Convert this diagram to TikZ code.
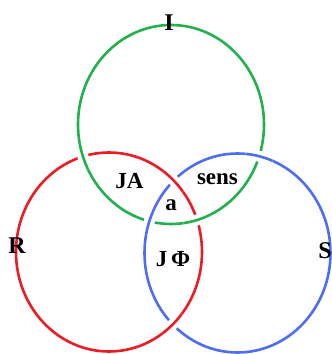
\documentclass[tikz,border=0pt]{standalone}
\usepackage{fontspec}
\setmainfont{Liberation Serif}
\usetikzlibrary{intersections}
\definecolor{ringgreen}{HTML}{22B14C}
\definecolor{ringred}{HTML}{ED1C24}
\definecolor{ringblue}{HTML}{4D6DF3}
\tikzset{
  ring/.style={line width=2.6pt},
  lab/.style={font=\fontsize{23}{23}\selectfont\bfseries, inner sep=0pt},
  biglab/.style={font=\fontsize{24}{24}\selectfont\bfseries, inner sep=0pt}
}
\begin{document}
\begin{tikzpicture}[x=1pt,y=1pt]
  \useasboundingbox (0,0) rectangle (332,354);
  \coordinate (cI) at (171,229.5);
  \coordinate (cR) at (109,102);
  \coordinate (cS) at (237.5,101);

  \draw[ring,ringgreen,name path=I-ring] (cI) ellipse [x radius=93pt, y radius=99.5pt];
  \draw[ring,ringred,name path=R-ring] (cR) ellipse [x radius=93pt, y radius=99.5pt];
  \draw[ring,ringblue,name path=S-ring] (cS) ellipse [x radius=93pt, y radius=99.5pt];

  % crossings: green over red, blue over green, red over blue
  \foreach \ra/\rb/\col in {I/R/ringgreen, S/I/ringblue, R/S/ringred} {
    \path[name intersections={of=\ra-ring and \rb-ring, name=x}];
    \foreach \k in {1,2} {
      \begin{scope}
        \clip (x-\k) circle (14pt);
        \draw[white, line width=11pt] (c\ra) ellipse [x radius=93pt, y radius=99.5pt];
        \draw[ring,\col] (c\ra) ellipse [x radius=93pt, y radius=99.5pt];
      \end{scope}
    }
  }

  \node[biglab] (I) at (169,331) {I};
  \node[biglab] (R) at (17,108) {R};
  \node[biglab] (S) at (325,103) {S};
  \node[lab] (JA) at (129.5,173) {JA};
  \node[lab] (sens) at (217.5,174.5) {sens};
  \node[lab] (a) at (171,149) {a};
  \node[lab] (JF) at (173,94.5) {J\,Φ};
\end{tikzpicture}
\end{document}
